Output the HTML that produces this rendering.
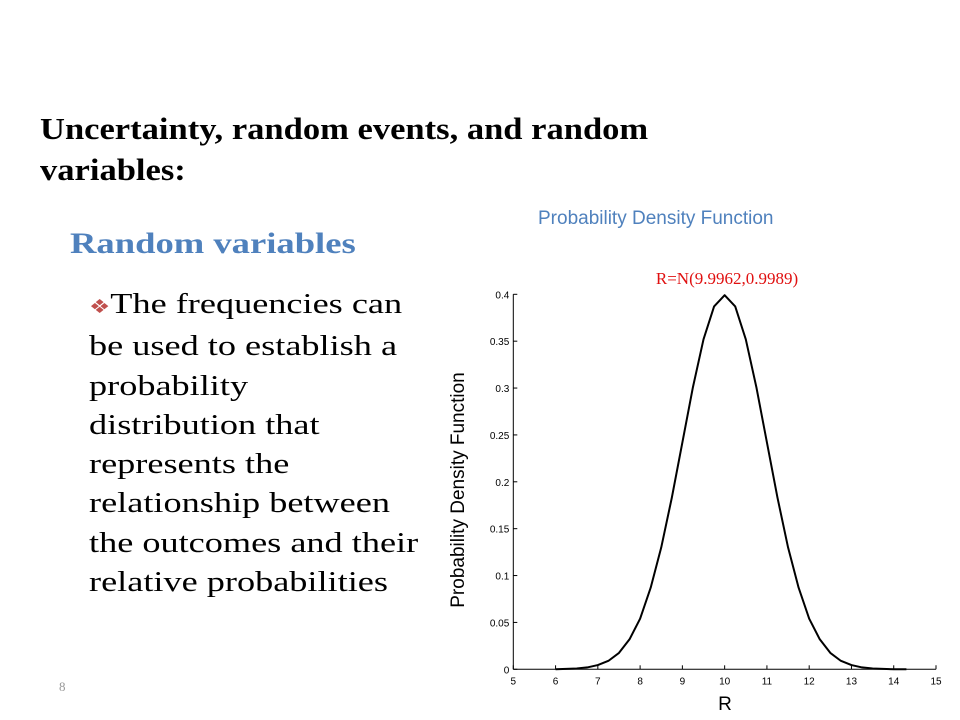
<!DOCTYPE html>
<html><head><meta charset="utf-8">
<style>
body{margin:0;width:960px;height:720px;background:#fff;position:relative;overflow:hidden;font-family:"Liberation Serif",serif}
.abs{position:absolute;white-space:nowrap;transform-origin:0 0}
</style></head><body>
<div class="abs" style="left:40px;top:108px;font-size:31px;font-weight:bold;line-height:41px;color:#000;transform:scaleX(1.114)">Uncertainty, random events, and random<br>variables:</div>
<div class="abs" style="left:70px;top:227px;font-size:30px;font-weight:bold;color:#4f81bd;transform:scaleX(1.22)">Random variables</div>
<div class="abs" style="left:89px;top:285px;font-size:29px;line-height:39.3px;color:#000;transform:scaleX(1.25)"><span style="color:#c0504d;font-size:19px">❖</span>The frequencies can<br>be used to establish a<br>probability<br>distribution that<br>represents the<br>relationship between<br>the outcomes and their<br>relative probabilities</div>
<div class="abs" style="left:59px;top:679px;font-size:13px;color:#999">8</div>
<div class="abs" style="left:538px;top:208px;font-size:19px;font-family:'Liberation Sans',sans-serif;color:#4f81bd">Probability Density Function</div>
<svg class="abs" style="left:0;top:0" width="960" height="720" id="chart"></svg>
<script>
const xs=[6,6.25,6.5,6.75,7,7.25,7.5,7.75,8,8.25,8.5,8.75,9,9.25,9.5,9.75,10,10.25,10.5,10.75,11,11.25,11.5,11.75,12,12.25,12.5,12.75,13,13.25,13.5,13.75,14,14.3];
const ys=[0.0001,0.0004,0.0009,0.002,0.0045,0.009,0.0175,0.032,0.054,0.087,0.13,0.183,0.242,0.301,0.352,0.387,0.399,0.387,0.352,0.301,0.242,0.183,0.13,0.087,0.054,0.032,0.0175,0.009,0.0045,0.002,0.0009,0.0004,0.0001,0.00004];
const xTicks=[5,6,7,8,9,10,11,12,13,14,15];
const yTicks=[0,0.05,0.1,0.15,0.2,0.25,0.3,0.35,0.4];
const yTickLabels=["0","0.05","0.1","0.15","0.2","0.25","0.3","0.35","0.4"];
const svg=document.getElementById('chart');const NS='http://www.w3.org/2000/svg';
const X=v=>513.3+(v-5)*(936-513.3)/10;
const Y=v=>669.3-v*(669.3-294.3)/0.4;
function mk(t,a){const e=document.createElementNS(NS,t);for(const k in a)e.setAttribute(k,a[k]);svg.appendChild(e);return e;}
let ax=mk('line',{x1:X(5),y1:Y(0),x2:X(15),y2:Y(0),stroke:'#000','stroke-width':1});


let ay=mk('line',{x1:X(5),y1:Y(0),x2:X(5),y2:Y(0.4),stroke:'#000','stroke-width':1});


xTicks.forEach(v=>{
 mk('line',{x1:X(v),y1:Y(0),x2:X(v),y2:Y(0)-4,stroke:'#000'});
 const t=mk('text',{x:X(v),y:Y(0)+15,'font-size':10,'text-anchor':'middle','font-family':'Liberation Sans,sans-serif'});
 t.textContent=v;
 
 
});
yTicks.forEach((v,i)=>{
 mk('line',{x1:X(5),y1:Y(v),x2:X(5)+4,y2:Y(v),stroke:'#000'});
 const t=mk('text',{x:X(5)-4,y:Y(v)+4,'font-size':10,'text-anchor':'end','font-family':'Liberation Sans,sans-serif'});
 t.textContent=yTickLabels[i];
 
 
});
const p=mk('polyline',{points:xs.map((x,i)=>X(x)+','+Y(ys[i])).join(' '),fill:'none',stroke:'#000','stroke-width':2,'stroke-linejoin':'round'});


const l=mk('text',{x:727,y:284,'font-size':17,'text-anchor':'middle',fill:'#e01010','font-family':'Liberation Serif,serif'});
l.textContent='R=N(9.9962,0.9989)';


const xl=mk('text',{x:725,y:710,'font-size':19,'text-anchor':'middle','font-family':'Liberation Sans,sans-serif'});
xl.textContent='R';


const yl=mk('text',{x:0,y:0,'font-size':19,'text-anchor':'middle','font-family':'Liberation Sans,sans-serif',transform:'translate(464,490) rotate(-90)'});
yl.textContent='Probability Density Function';


</script>
</body></html>
